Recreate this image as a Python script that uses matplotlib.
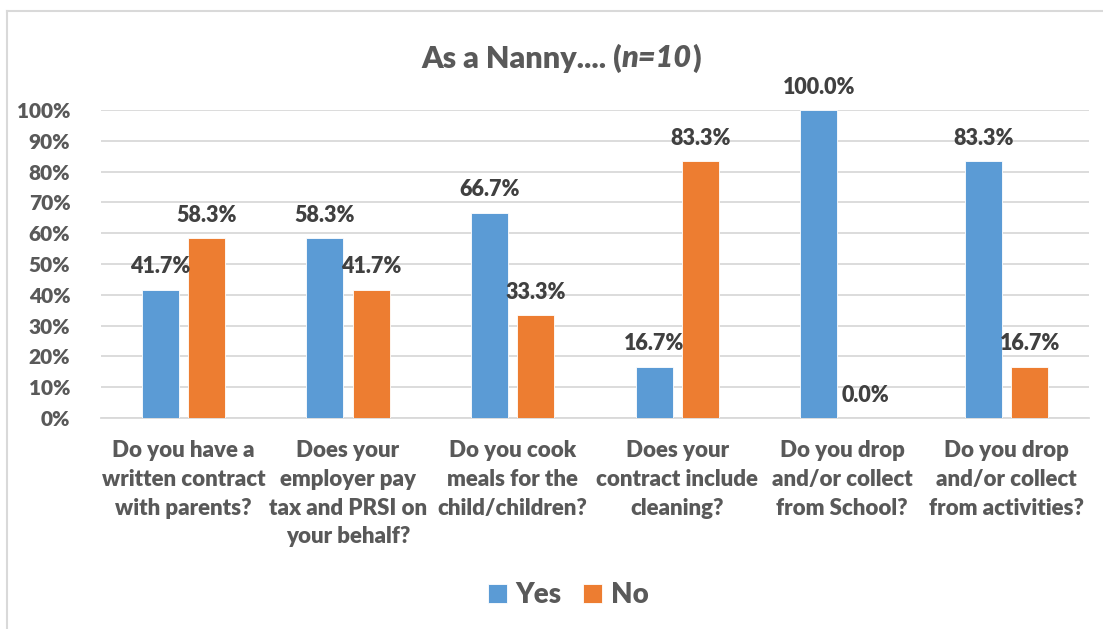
import matplotlib
matplotlib.use("Agg")
import matplotlib.pyplot as plt
import numpy as np

questions = ["Do you have a\nwritten contract\nwith parents?",
             "Does your\nemployer pay\ntax and PRSI on\nyour behalf?",
             "Do you cook\nmeals for the\nchild/children?",
             "Does your\ncontract include\ncleaning?",
             "Do you drop\nand/or collect\nfrom School?",
             "Do you drop\nand/or collect\nfrom activities?"]
yes = [41.7, 58.3, 66.7, 16.7, 100.0, 83.3]
no = [58.3, 41.7, 33.3, 83.3, 0.0, 16.7]
ticks = [0, 10, 20, 30, 40, 50, 60, 70, 80, 90, 100]

blue = "#5B9BD5"
orange = "#ED7D31"
txt = "#595959"
lbl = "#404040"
grid = "#D9D9D9"
wt = "heavy"
plt.rcParams['font.family'] = ['Lato', 'DejaVu Sans']

fig = plt.figure(figsize=(11.03, 6.29), dpi=100)
ax = fig.add_axes([101/1103, 1-418/629, 988/1103, 308/629])

x = np.arange(len(questions))
w = 0.225
b1 = ax.bar(x - 0.14, yes, w, color=blue, edgecolor="white", linewidth=0.6, label="Yes", zorder=3)
b2 = ax.bar(x + 0.14, no, w, color=orange, edgecolor="white", linewidth=0.6, label="No", zorder=3)

for bars, vals in ((b1, yes), (b2, no)):
    for r, v in zip(bars, vals):
        ax.annotate("%.1f%%" % v, (r.get_x() + r.get_width()/2, v),
                    xytext=(0, 9), textcoords="offset points",
                    ha="center", va="bottom", fontsize=15.5,
                    fontweight=wt, color=lbl, zorder=4)

ax.set_xlim(-0.5, len(questions) - 0.5)
ax.set_ylim(0, 100)
ax.set_yticks(ticks)
ax.set_yticklabels(["%d%%" % t for t in ticks])
ax.set_xticks(x)
ax.set_xticklabels(questions, linespacing=1.45)
ax.tick_params(axis="y", length=0, pad=22, labelsize=15, labelcolor=txt)
ax.tick_params(axis="x", length=0, pad=16, labelsize=16, labelcolor=txt)
for t in ax.get_xticklabels() + ax.get_yticklabels():
    t.set_fontweight(wt)
ax.grid(axis="y", color=grid, linewidth=1.3, zorder=0)
for s in ["top", "right", "left"]:
    ax.spines[s].set_visible(False)
ax.spines["bottom"].set_color(grid)
ax.spines["bottom"].set_linewidth(1.3)
ax.spines["bottom"].set_zorder(2)

# outer chart frame (top and left edges)
fig.add_artist(plt.Line2D([7/1103, 1], [1-11/629, 1-11/629], color=grid, linewidth=1.5))
fig.add_artist(plt.Line2D([7/1103, 7/1103], [0, 1-11/629], color=grid, linewidth=1.5))

# title with italic part
parts = [("As a Nanny.... (", "normal"), ("n=10", "italic"), (")", "normal")]
fig.canvas.draw()
r = fig.canvas.get_renderer()
texts = []
for s, st in parts:
    t = fig.text(0, 1-58/629, s, fontsize=22, fontweight=wt, style=st,
                 color=txt, va="center", ha="left")
    texts.append(t)
widths = [t.get_window_extent(r).width for t in texts]
xpos = 561 - sum(widths)/2
for t, wd in zip(texts, widths):
    t.set_x(xpos/1103)
    xpos += wd

leg = fig.legend(loc="center", bbox_to_anchor=(568/1103, 1-595/629), ncol=2,
                 frameon=False, fontsize=20, handlelength=0.68, handleheight=0.68,
                 handletextpad=0.3, columnspacing=0.8)
for t in leg.get_texts():
    t.set_color(txt)
    t.set_fontweight(wt)

plt.savefig("out.png", dpi=100)
